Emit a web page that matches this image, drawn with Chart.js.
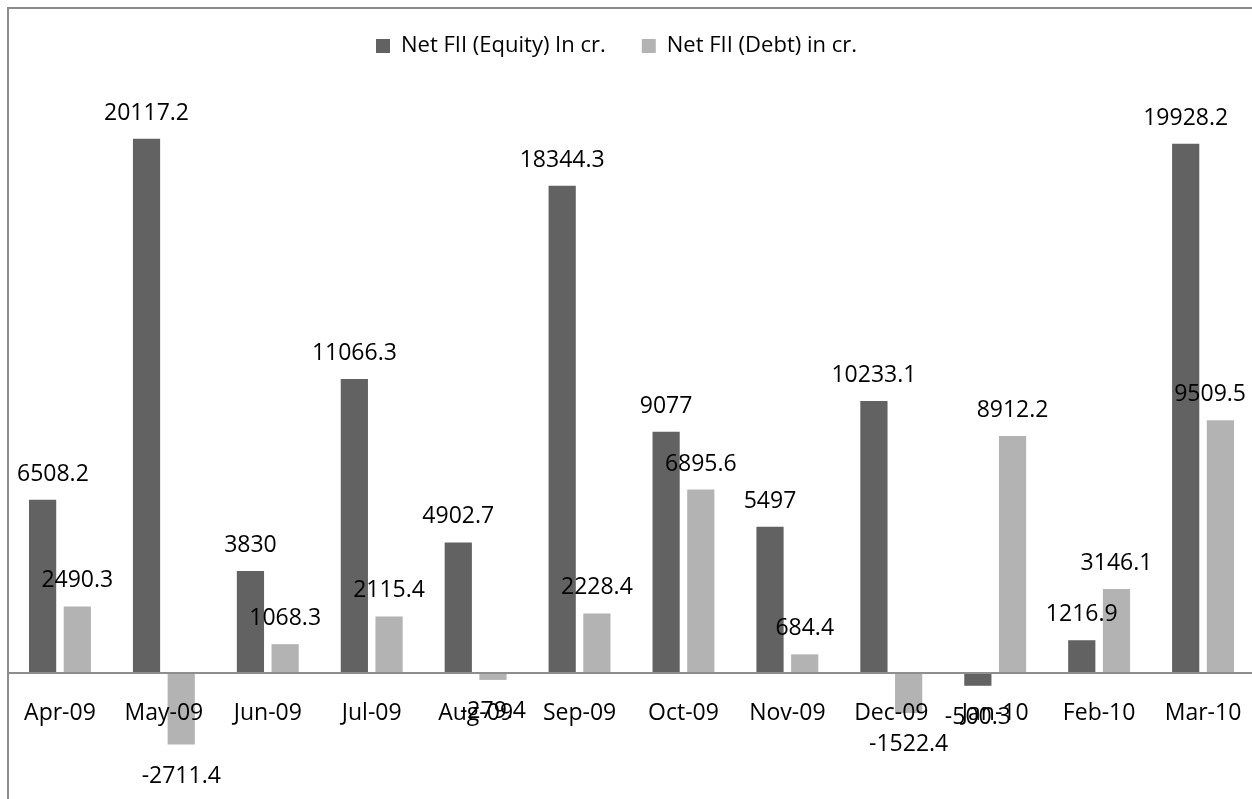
<!DOCTYPE html>
<html>
<head>
<meta charset="utf-8">
<script src="https://cdn.jsdelivr.net/npm/chart.js@4/dist/chart.umd.min.js"></script>
<style>
  html, body { margin: 0; padding: 0; background: #fff; overflow: hidden; width: 1252px; height: 799px; }
  #frame { position: absolute; left: 7px; top: 7px; width: 1300px; height: 900px; border: 2px solid #8c8c8c; box-sizing: border-box; pointer-events: none; }
  #fii { position: absolute; left: 8px; top: -8px; }
</style>
</head>
<body>
<canvas id="fii" width="1247" height="807"></canvas>
<div id="frame"></div>
<script>
// Monthly net FII flows, Rs. crore
const months = ['Apr-09', 'May-09', 'Jun-09', 'Jul-09', 'Aug-09', 'Sep-09', 'Oct-09', 'Nov-09', 'Dec-09', 'Jan-10', 'Feb-10', 'Mar-10'];
const equityFlows = [6508.2, 20117.2, 3830, 11066.3, 4902.7, 18344.3, 9077, 5497, 10233.1, -500.3, 1216.9, 19928.2];
const debtFlows = [2490.3, -2711.4, 1068.3, 2115.4, -279.4, 2228.4, 6895.6, 684.4, -1522.4, 8912.2, 3146.1, 9509.5];
const seriesNames = ['Net FII (Equity) In cr.', 'Net FII (Debt) in cr.'];

const FONT = '"Open Sans", "Noto Sans", sans-serif';
Chart.defaults.color = '#000';
Chart.defaults.font.family = FONT;

// Value labels above positive bars and below negative ones
const valueLabels = {
  id: 'valueLabels',
  afterDraw(chart) {
    const ctx = chart.ctx;
    const area = chart.chartArea;
    ctx.save();
    ctx.font = '23px ' + FONT;
    ctx.fillStyle = '#000';
    ctx.textBaseline = 'alphabetic';
    ctx.textAlign = 'left';
    chart.data.datasets.forEach((ds, di) => {
      const meta = chart.getDatasetMeta(di);
      meta.data.forEach((bar, i) => {
        const v = ds.data[i];
        const text = String(v);
        const w = ctx.measureText(text).width;
        let left = bar.x - w / 2;
        left = Math.max(left, area.left + 9);
        left = Math.min(left, area.right - 9 - w);
        const y = v >= 0 ? bar.y - 19 : bar.y + 38.5;
        ctx.fillText(text, left, y);
      });
    });
    ctx.restore();
  }
};

// Nudge the legend row sideways
const legendShift = {
  id: 'legendShift',
  afterLayout(chart) {
    const lg = chart.legend;
    if (lg) { lg.left -= 15; lg.right -= 15; }
  }
};

new Chart(document.getElementById('fii'), {
  type: 'bar',
  data: {
    labels: months,
    datasets: [
      { label: seriesNames[0], data: equityFlows, backgroundColor: '#626262', borderWidth: 0 },
      { label: seriesNames[1], data: debtFlows, backgroundColor: '#b3b3b3', borderWidth: 0 }
    ]
  },
  options: {
    responsive: false,
    animation: false,
    layout: { padding: { left: 0, right: 0, top: 7, bottom: 0 } },
    datasets: { bar: { categoryPercentage: 0.668, barPercentage: 0.784 } },
    plugins: {
      tooltip: { enabled: false },
      legend: {
        position: 'top',
        labels: {
          boxWidth: 14,
          boxHeight: 14,
          padding: 36,
          color: '#000',
          font: { size: 22, family: FONT }
        }
      }
    },
    scales: {
      x: {
        position: { y: 0 },
        grid: { display: false, drawTicks: true, tickLength: 27 },
        border: { display: true, color: '#8e8e8e', width: 2, z: 1 },
        ticks: { padding: 0, z: 2, color: '#000', font: { size: 23, family: FONT }, maxRotation: 0, autoSkip: false }
      },
      y: {
        display: false,
        min: -4768,
        max: 22823
      }
    }
  },
  plugins: [valueLabels, legendShift]
});
</script>
</body>
</html>
